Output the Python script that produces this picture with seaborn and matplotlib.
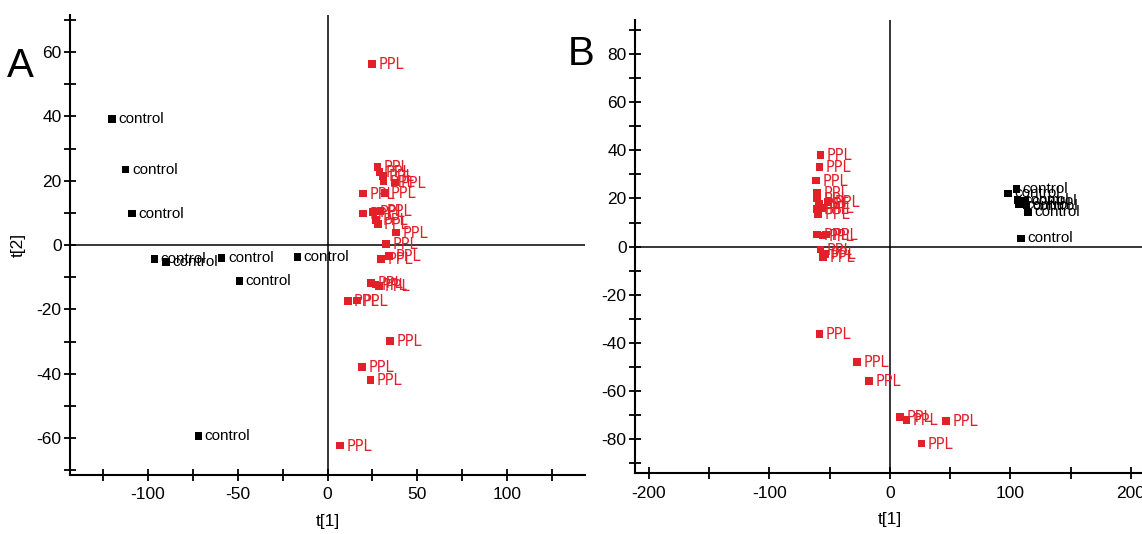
import pandas as pd
import matplotlib.pyplot as plt
import seaborn as sns
from matplotlib.ticker import MultipleLocator

sns.set_style("ticks")
plt.rcParams["font.family"] = ["Liberation Sans", "DejaVu Sans"]
plt.rcParams["axes.unicode_minus"] = False
plt.rcParams["text.color"] = "black"
plt.rcParams["axes.labelcolor"] = "black"

RED = "#e3202a"

# Panel A scores
a_ctrl_x = [-120, -112.5, -109, -96.4, -90, -59, -16.7, -49, -71.9]
a_ctrl_y = [39.2, 23.5, 9.8, -4.3, -5.3, -4.0, -3.7, -11.2, -59.4]
a_ppl_x = [24.9, 27.9, 29, 30.8, 31.2, 37.5, 19.7, 31.8, 19.7, 25.3, 29.5, 27.1, 28,
           38.3, 32.7, 29.9, 34.2, 24.3, 26.7, 28.6, 11.3, 16.3, 34.9, 19.3, 24, 7.1]
a_ppl_y = [56.4, 24.2, 22.7, 21.4, 19.8, 19.5, 16, 16.2, 9.8, 10.3, 10.6, 7.9, 6.6,
           3.9, 0.4, -4.4, -3.4, -11.7, -12.2, -12.7, -17.4, -17.2, -29.8, -38, -41.9, -62.3]

# Panel B scores
b_ctrl_x = [98.2, 105.1, 105.7, 107.3, 112, 113.4, 114.8, 108.5]
b_ctrl_y = [22.1, 23.9, 19.3, 17.4, 19, 17, 14.2, 3.4]
b_ppl_x = [-57.5, -58.6, -61.2, -60.5, -60.5, -59, -60.5, -59.5, -51.5, -56, -60.3, -56, -53,
           -57.5, -54, -55.5, -58.6, -27.1, -17.2, 8.3, 13.8, 46.5, 26.3]
b_ppl_y = [38, 33, 27.5, 22.3, 20, 17.8, 15.5, 13.5, 18.6, 16, 5, 4.6, 5,
           -1.2, -3, -4.4, -36.4, -47.9, -55.8, -70.7, -72, -72.3, -81.7]


def make_df(cx, cy, px, py):
    ctrl = pd.DataFrame({"t1": cx, "t2": cy, "group": "control"})
    ppl = pd.DataFrame({"t1": px, "t2": py, "group": "PPL"})
    return pd.concat([ctrl, ppl], ignore_index=True)


def draw_panel(ax, df, xlim, ylim, xmaj, xmin, ymaj, ymin, ylabel):
    ax.axhline(0, color="black", lw=1.1, zorder=1)
    ax.axvline(0, color="black", lw=1.1, zorder=1)
    sns.scatterplot(data=df, x="t1", y="t2", hue="group",
                    palette={"control": "black", "PPL": RED},
                    marker="s", s=30, linewidth=0, legend=False, ax=ax, zorder=3)
    for _, row in df.iterrows():
        if row["group"] == "control":
            ax.annotate("control", (row["t1"], row["t2"]), xytext=(4.5, 0),
                        textcoords="offset points", va="center", ha="left",
                        fontsize=11, color="black", zorder=4)
        else:
            ax.annotate("PPL", (row["t1"], row["t2"]), xytext=(4.5, -0.5),
                        textcoords="offset points", va="center", ha="left",
                        fontsize=10.5, color=RED, family="DejaVu Sans", zorder=4)
    ax.set_xlim(*xlim)
    ax.set_ylim(*ylim)
    ax.xaxis.set_major_locator(MultipleLocator(xmaj))
    ax.xaxis.set_minor_locator(MultipleLocator(xmin))
    ax.yaxis.set_major_locator(MultipleLocator(ymaj))
    ax.yaxis.set_minor_locator(MultipleLocator(ymin))
    ax.tick_params(which="both", direction="inout", length=8, width=1.3,
                   labelsize=12.5, colors="black")
    ax.tick_params(axis="y", pad=2)
    ax.tick_params(axis="x", pad=5)
    sns.despine(ax=ax)
    for s in ["left", "bottom"]:
        ax.spines[s].set_linewidth(1.5)
        ax.spines[s].set_color("black")
    ax.set_xlabel("t[1]", fontsize=12.5, labelpad=8)
    ax.set_ylabel(ylabel, fontsize=12.5, labelpad=8)


def main():
    fig = plt.figure(figsize=(11.42, 5.34), dpi=100)
    ax_a = fig.add_axes([0.0613, 0.1105, 0.451, 0.861])
    ax_b = fig.add_axes([0.556, 0.1142, 0.447, 0.848])

    df_a = make_df(a_ctrl_x, a_ctrl_y, a_ppl_x, a_ppl_y)
    df_b = make_df(b_ctrl_x, b_ctrl_y, b_ppl_x, b_ppl_y)

    draw_panel(ax_a, df_a, (-143.5, 143.5), (-71.5, 71.5), 50, 25, 20, 10, "t[2]")
    draw_panel(ax_b, df_b, (-211.6, 212), (-94, 94), 100, 50, 20, 10, "")

    fig.text(7 / 1142, 1 - 77 / 534, "A", fontsize=29, va="baseline", ha="left",
             color="black")
    fig.text(568 / 1142, 1 - 65 / 534, "B", fontsize=29, va="baseline", ha="left",
             color="black")

    fig.savefig("out.png", dpi=100)


if __name__ == "__main__":
    main()
